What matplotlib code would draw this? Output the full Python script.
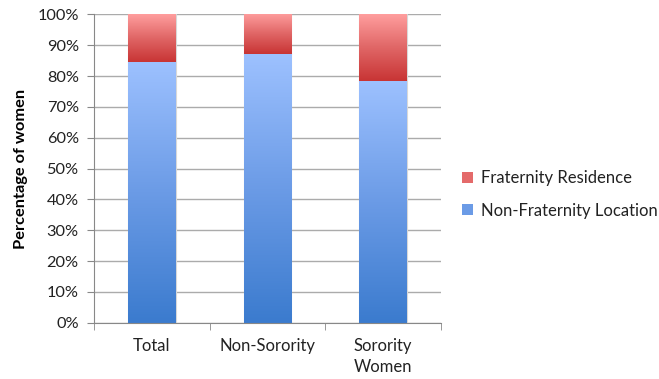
import numpy as np
import matplotlib
matplotlib.use("Agg")
import matplotlib.pyplot as plt
from matplotlib.colors import LinearSegmentedColormap
from matplotlib.patches import Rectangle
from matplotlib.ticker import PercentFormatter

categories = ["Total", "Non-Sorority", "Sorority\nWomen"]
non_fraternity = [84.7, 87.0, 78.5]
fraternity = [15.3, 13.0, 21.5]
series_names = ["Fraternity Residence", "Non-Fraternity Location"]

plt.rcParams["font.family"] = ["Lato", "DejaVu Sans"]

fig = plt.figure(figsize=(6.59, 3.79), dpi=100)
ax = fig.add_axes([0.1427, 0.1485, 0.669 - 0.1427, 0.962 - 0.1485])

blue_cmap = LinearSegmentedColormap.from_list("blue", ["#3B7BCE", "#6B9BE6", "#9DC1FF"])
red_cmap = LinearSegmentedColormap.from_list("red", ["#C83434", "#E06666", "#FF9E9E"])

x = np.arange(len(categories))
width = 0.41
grad = np.linspace(0, 1, 256).reshape(-1, 1)

def gradient_bar(xc, bottom, height, cmap):
    rect = Rectangle((xc - width / 2, bottom), width, height,
                     facecolor="none", edgecolor="none")
    ax.add_patch(rect)
    im = ax.imshow(grad, cmap=cmap, origin="lower", aspect="auto",
                   extent=(xc - width / 2, xc + width / 2, bottom, bottom + height),
                   zorder=2, interpolation="bicubic")
    im.set_clip_path(rect)
    # soft shadow edge
    ax.add_patch(Rectangle((xc - width / 2, bottom), width, height,
                           facecolor="none", edgecolor="#d8d8d8", lw=0.8, zorder=1.9))

for i in range(len(categories)):
    gradient_bar(x[i], 0, non_fraternity[i], blue_cmap)
    gradient_bar(x[i], non_fraternity[i], fraternity[i], red_cmap)

ax.set_xlim(-0.5, len(categories) - 0.5)
ax.set_ylim(0, 100)
ax.set_yticks(np.arange(0, 101, 10))
ax.yaxis.set_major_formatter(PercentFormatter(decimals=0))
ax.yaxis.grid(True, color="#ababab", lw=1)
ax.set_axisbelow(True)

ax.set_xticks(x)
ax.set_xticklabels(categories, fontsize=12, color="#222222", linespacing=1.35,
                   verticalalignment="top")
ax.set_xticks(np.arange(-0.5, len(categories), 1.0), minor=True)
ax.tick_params(axis="x", which="major", length=0, pad=11)
ax.tick_params(axis="x", which="minor", length=5, color="#888888")
ax.tick_params(axis="y", length=5, color="#888888", labelsize=11.8, labelcolor="#222222", pad=6)

for s in ["top", "right"]:
    ax.spines[s].set_visible(False)
for s in ["left", "bottom"]:
    ax.spines[s].set_color("#888888")

ax.set_ylabel("Percentage of women", fontsize=11.8, fontweight="bold", labelpad=7)

handles = [Rectangle((0, 0), 1, 1, facecolor="#E46A6A", edgecolor="none"),
           Rectangle((0, 0), 1, 1, facecolor="#6B9BE6", edgecolor="none")]
fig.legend(handles, series_names, loc="center left", bbox_to_anchor=(0.679, 0.487),
           frameon=False, fontsize=12, handlelength=0.65, handleheight=0.65,
           handletextpad=0.45, labelspacing=1.0, labelcolor="#222222")

fig.savefig("out.png", dpi=100)
